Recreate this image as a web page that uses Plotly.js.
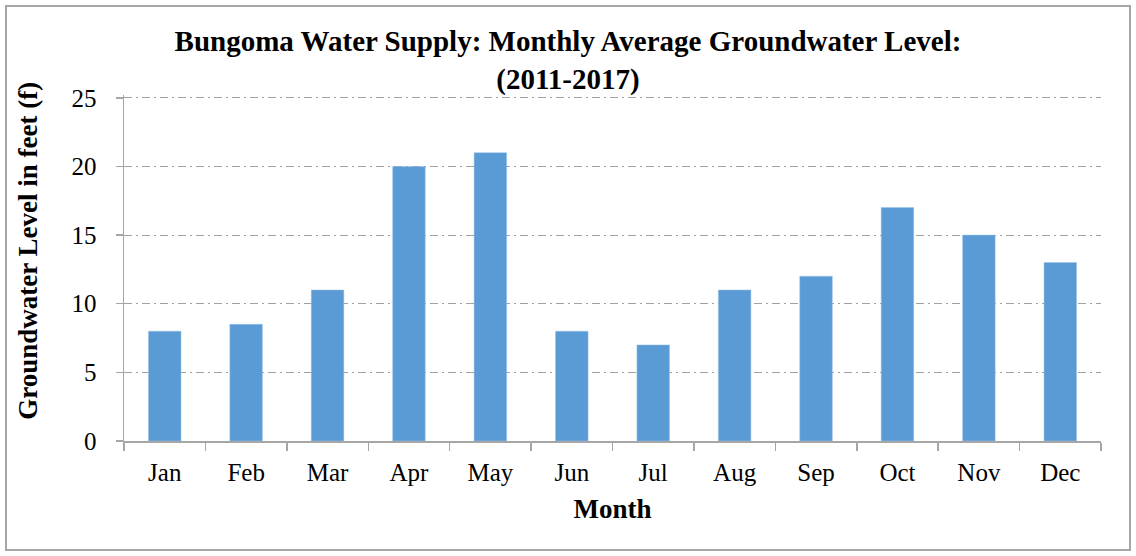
<!DOCTYPE html>
<html>
<head>
<meta charset="utf-8">
<script src="https://cdn.plot.ly/plotly-3.0.1.min.js"></script>
<style>
  html, body { margin: 0; padding: 0; background: #fff; }
  #frame { position: absolute; left: 5px; top: 5px; width: 1126px; height: 546px; box-sizing: border-box; border: 2px solid #a6a6a6; }
  #chart { width: 1122px; height: 542px; }
</style>
</head>
<body>
<div id="frame"><div id="chart"></div></div>
<script>
const months = ["Jan", "Feb", "Mar", "Apr", "May", "Jun", "Jul", "Aug", "Sep", "Oct", "Nov", "Dec"];
const groundwaterLevel = [8, 8.5, 11, 20, 21, 8, 7, 11, 12, 17, 15, 13];
const yTicks = [0, 5, 10, 15, 20, 25];

const serif = "Liberation Serif, Times New Roman, serif";

const trace = {
  type: "bar",
  x: months,
  y: groundwaterLevel,
  marker: { color: "#5B9BD5", line: { color: "#9dc3e6", width: 0.5 } },
  hoverinfo: "x+y"
};

const layout = {
  width: 1122,
  height: 542,
  margin: { l: 117, r: 28, t: 88, b: 108 },
  paper_bgcolor: "#ffffff",
  plot_bgcolor: "#ffffff",
  bargap: 0.6,
  showlegend: false,
  title: {
    text: "<b>Bungoma Water Supply: Monthly Average Groundwater Level:<br>(2011-2017)</b>",
    font: { family: serif, size: 29, color: "#000" },
    x: 0.5,
    xanchor: "center",
    y: 0.919,
    yanchor: "middle"
  },
  xaxis: {
    type: "category",
    showline: true,
    linecolor: "#a6a6a6",
    linewidth: 1.5,
    ticks: "outside",
    tickson: "boundaries",
    ticklen: 8,
    tickcolor: "#a6a6a6",
    tickwidth: 1.5,
    ticklabelstandoff: 8,
    tickfont: { family: serif, size: 25, color: "#000" },
    showgrid: false,
    title: {
      text: "<b>Month</b>",
      font: { family: serif, size: 27, color: "#000" },
      standoff: 14
    }
  },
  yaxis: {
    range: [0, 25.2],
    tickvals: yTicks,
    showline: true,
    linecolor: "#a6a6a6",
    linewidth: 1.5,
    ticks: "outside",
    ticklen: 7,
    tickcolor: "#a6a6a6",
    tickwidth: 1.5,
    ticklabelstandoff: 14,
    tickfont: { family: serif, size: 25, color: "#000" },
    showgrid: true,
    gridcolor: "#a0a0a0",
    griddash: "8px,4px,2px,4px",
    gridwidth: 1,
    zeroline: false
  },
  annotations: [{
    text: "<b>Groundwater Level in feet (f)</b>",
    font: { family: serif, size: 27, color: "#000" },
    textangle: -90,
    xref: "paper",
    yref: "paper",
    x: -0.0983,
    y: 0.5496,
    xanchor: "center",
    yanchor: "middle",
    showarrow: false
  }]
};

Plotly.newPlot("chart", [trace], layout, { displayModeBar: false, staticPlot: true });
</script>
</body>
</html>
